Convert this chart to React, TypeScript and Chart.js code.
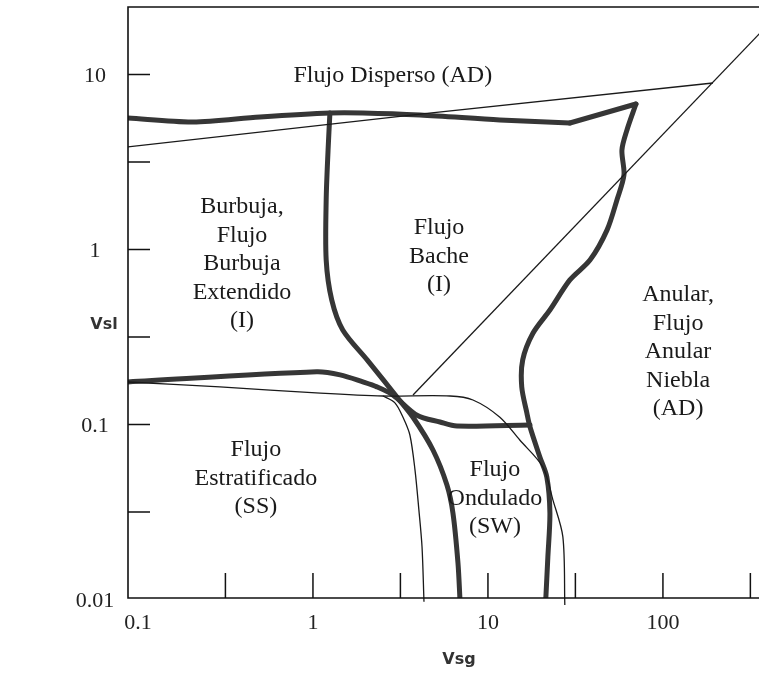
import { useEffect, useRef } from "react";
import { Chart, registerables } from "chart.js";

Chart.register(...registerables);

// Axis ranges (log-log)
const X_MIN = 0.0877;
const X_MAX = 354;
const Y_MIN = 0.0102;
const Y_MAX = 24.3;

// Tick marks and labels
const xTickMarks = [0.316, 1, 3.16, 10, 31.6, 100, 316];
const yTickMarks = [0.0316, 0.1, 0.316, 1, 3.16, 10];
const xLabelValues = [0.1, 1, 10, 100];
const xLabelTexts = ["0.1", "1", "10", "100"];
const yLabelValues = [0.01, 0.1, 1, 10];
const yLabelTexts = ["0.01", "0.1", "1", "10"];

// Thin boundary: dispersed bubble (upper)
const dispThinVsg = [0.0865, 4.09, 193];
const dispThinVsl = [3.85, 5.94, 8.94];

// Thin diagonal boundary (annular)
const diagThinVsg = [3.73, 360];
const diagThinVsl = [0.1475, 17.3];

// Thick upper boundary (left part)
const topThickVsg = [0.0865, 0.206, 0.498, 1.25, 1.93, 4.09, 11.7, 29.4];
const topThickVsl = [5.64, 5.35, 5.72, 6.03, 6.03, 5.87, 5.5, 5.28];

// Thick upper boundary (right rising segment)
const topRightVsg = [29.4, 70.1];
const topRightVsl = [5.28, 6.78];

// Thick annular boundary
const annularVsg = [70.1, 62.3, 58.3, 59.9, 54.6, 47.9, 38.3, 29.4, 22.6, 18.1, 15.8, 15.6, 16.7, 17.4, 19.8, 21.7, 22.6, 22.0, 21.4];
const annularVsl = [6.78, 4.82, 3.7, 2.67, 1.92, 1.29, 0.87, 0.67, 0.451, 0.333, 0.234, 0.164, 0.116, 0.0967, 0.0652, 0.0501, 0.0312, 0.0175, 0.01];

// Thick stratified / intermittent boundary
const stratThickVsg = [0.0865, 1.05, 1.43, 1.93, 2.32, 2.86, 3.93, 5.32, 6.65, 17.4];
const stratThickVsl = [0.175, 0.2, 0.192, 0.175, 0.164, 0.1475, 0.113, 0.1033, 0.098, 0.0994];

// Thick bubble/slug - stratified/wavy boundary
const interThickVsg = [1.25, 1.22, 1.19, 1.19, 1.28, 1.48, 2.04, 3.02, 3.73, 4.85, 5.83, 6.31, 6.74, 6.92];
const interThickVsl = [6.03, 3.7, 1.92, 0.871, 0.515, 0.347, 0.234, 0.1436, 0.11, 0.0715, 0.0451, 0.0312, 0.0162, 0.01];

// Thin stratified boundary (to wavy right side)
const wavyThinVsg = [0.0865, 0.294, 1.1, 2.51, 6.07, 8.21, 11.7, 15.2, 20.6, 23.5, 26.8, 27.5];
const wavyThinVsl = [0.175, 0.164, 0.151, 0.1455, 0.1455, 0.138, 0.11, 0.0815, 0.0572, 0.0371, 0.0228, 0.0093];

// Thin stratified boundary (left drop)
const dropThinVsg = [2.51, 2.94, 3.27, 3.58, 3.83, 4.03, 4.2, 4.31];
const dropThinVsl = [0.1455, 0.133, 0.11, 0.0871, 0.0549, 0.0325, 0.02, 0.0097];

// Region labels
const regionLines = [
  ["Flujo Disperso (AD)"],
  ["Burbuja,", "Flujo", "Burbuja", "Extendido", "(I)"],
  ["Flujo", "Bache", "(I)"],
  ["Anular,", "Flujo", "Anular", "Niebla", "(AD)"],
  ["Flujo", "Estratificado", "(SS)"],
  ["Flujo", "Ondulado", "(SW)"],
];
const regionVsg = [2.86, 0.393, 5.25, 122, 0.472, 10.96];
const regionVsl = [9.8, 1.75, 1.33, 0.549, 0.0715, 0.055];

const zip = (xs: number[], ys: number[]) => xs.map((v, i) => ({ x: v, y: ys[i] }));

const THICK = "#363636";
const THIN = "#1a1a1a";

const thick = (label: string, xs: number[], ys: number[], tension = 0.3) => ({
  label,
  data: zip(xs, ys),
  showLine: true,
  borderColor: THICK,
  borderWidth: 5,
  tension,
  pointRadius: 0,
  pointHoverRadius: 0,
  borderCapStyle: "round" as const,
  borderJoinStyle: "round" as const,
});

const thin = (label: string, xs: number[], ys: number[], tension = 0.3, clip?: any) => ({
  label,
  data: zip(xs, ys),
  showLine: true,
  borderColor: THIN,
  borderWidth: 1.3,
  tension,
  pointRadius: 0,
  pointHoverRadius: 0,
  ...(clip ? { clip } : {}),
});

const overlayPlugin = {
  id: "overlay",
  afterDraw(chart: any) {
    const { ctx, chartArea: a, scales } = chart;
    const x = scales.x;
    const y = scales.y;
    ctx.save();
    // frame
    ctx.strokeStyle = "#111";
    ctx.lineWidth = 1.6;
    ctx.beginPath();
    ctx.moveTo(a.right + 2, a.top);
    ctx.lineTo(a.left, a.top);
    ctx.lineTo(a.left, a.bottom);
    ctx.lineTo(a.right + 2, a.bottom);
    ctx.stroke();
    // inward tick marks
    ctx.lineWidth = 1.5;
    ctx.beginPath();
    xTickMarks.forEach((v) => {
      const px = x.getPixelForValue(v);
      ctx.moveTo(px, a.bottom);
      ctx.lineTo(px, a.bottom - 25);
    });
    yTickMarks.forEach((v) => {
      const py = y.getPixelForValue(v);
      ctx.moveTo(a.left, py);
      ctx.lineTo(a.left + 22, py);
    });
    ctx.stroke();
    // tick labels
    ctx.fillStyle = "#222";
    ctx.font = '22px "Liberation Serif", "Times New Roman", serif';
    ctx.textAlign = "center";
    ctx.textBaseline = "middle";
    xLabelValues.forEach((v, i) => {
      ctx.fillText(xLabelTexts[i], x.getPixelForValue(v), a.bottom + 25);
    });
    yLabelValues.forEach((v, i) => {
      ctx.fillText(yLabelTexts[i], a.left - 33, y.getPixelForValue(v) + 2);
    });
    // axis titles
    ctx.font = 'bold 16px "DejaVu Sans", sans-serif';
    ctx.fillStyle = "#333";
    ctx.fillText("Vsg", a.left + 331, a.bottom + 62);
    ctx.fillText("Vsl", a.left - 24, 325);
    // region labels
    ctx.font = '24px "Liberation Serif", "Times New Roman", serif';
    ctx.fillStyle = "#1a1a1a";
    regionLines.forEach((lines, r) => {
      const cx = x.getPixelForValue(regionVsg[r]);
      const cy = y.getPixelForValue(regionVsl[r]);
      lines.forEach((t, i) => ctx.fillText(t, cx, cy + i * 28.5));
    });
    ctx.restore();
  },
};

export default function App() {
  const ref = useRef<HTMLCanvasElement | null>(null);
  useEffect(() => {
    if (!ref.current) return;
    const chart = new Chart(ref.current, {
      type: "scatter",
      data: {
        datasets: [
          thin("dispThin", dispThinVsg, dispThinVsl, 0),
          thin("diagThin", diagThinVsg, diagThinVsl, 0),
          thin("wavyThin", wavyThinVsg, wavyThinVsl, 0.3, { left: 0, top: 0, right: 0, bottom: 8 }),
          thin("dropThin", dropThinVsg, dropThinVsl, 0.3, { left: 0, top: 0, right: 0, bottom: 8 }),
          thick("topThick", topThickVsg, topThickVsl, 0.3),
          thick("topRight", topRightVsg, topRightVsl, 0),
          thick("annular", annularVsg, annularVsl, 0.3),
          thick("stratThick", stratThickVsg, stratThickVsl, 0.3),
          thick("interThick", interThickVsg, interThickVsl, 0.3),
        ] as any,
      },
      options: {
        animation: false,
        responsive: false,
        events: [],
        layout: { padding: { left: 128, top: 7, right: 0, bottom: 77 } },
        plugins: { legend: { display: false }, tooltip: { enabled: false } },
        scales: {
          x: { type: "logarithmic", min: X_MIN, max: X_MAX, display: false },
          y: { type: "logarithmic", min: Y_MIN, max: Y_MAX, display: false },
        },
      },
      plugins: [overlayPlugin],
    });
    return () => chart.destroy();
  }, []);
  return (
    <div style={{ position: "absolute", left: 0, top: 0, width: 759, height: 675, background: "#fff" }}>
      <canvas ref={ref} width={759} height={675} style={{ display: "block" }} />
    </div>
  );
}
